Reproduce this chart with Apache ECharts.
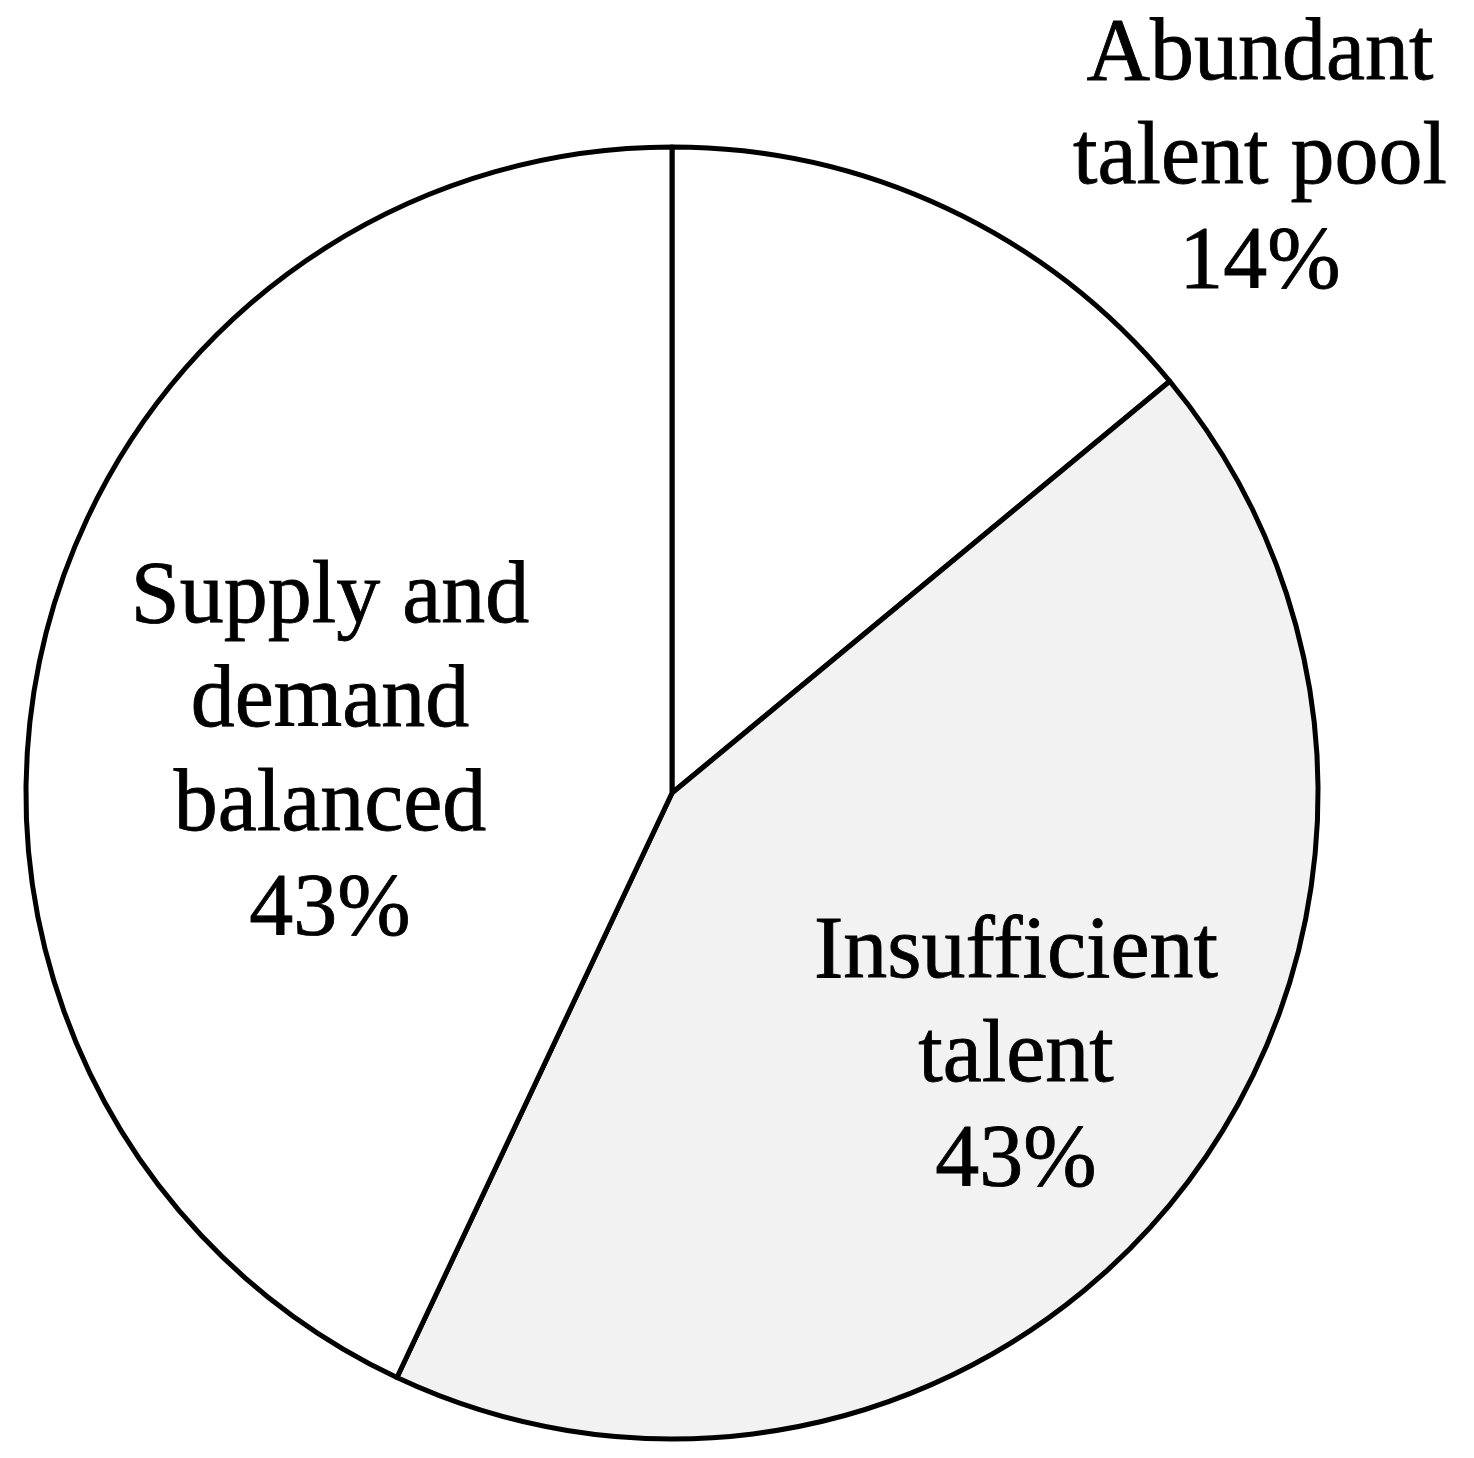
<!DOCTYPE html>
<html>
<head>
<meta charset="utf-8">
<script src="https://cdn.jsdelivr.net/npm/echarts@6/dist/echarts.min.js"></script>
<style>html,body{margin:0;background:#fff}#chart{width:1474px;height:1458px}</style>
</head>
<body>
<div id="chart"></div>
<script>
const categories = ['Abundant\ntalent pool', 'Insufficient\ntalent', 'Supply and\ndemand\nbalanced'];
const shares = [14, 43, 43];
const fills = ['#ffffff', '#f2f2f2', '#ffffff'];
const labelSpots = [[1260, 160], [1016, 1058], [330, 755]];

echarts.init(document.getElementById('chart')).setOption({
  animation: false,
  series: [{
    type: 'pie',
    center: [672, 793],
    radius: 646,
    startAngle: 90,
    data: categories.map((name, i) => ({
      name: name,
      value: shares[i],
      itemStyle: {color: fills[i]}
    })),
    itemStyle: {borderColor: '#000', borderWidth: 5},
    label: {
      position: 'inside',
      formatter: p => p.name + '\n' + p.value + '%',
      fontFamily: 'Liberation Serif',
      fontSize: 88,
      lineHeight: 104,
      color: '#000',
      textBorderColor: '#000',
      textBorderWidth: 0.8,
      align: 'center'
    },
    labelLine: {show: false},
    labelLayout: params => ({
      x: labelSpots[params.dataIndex][0],
      y: labelSpots[params.dataIndex][1],
      align: 'center',
      verticalAlign: 'middle'
    })
  }]
});
</script>
</body>
</html>
